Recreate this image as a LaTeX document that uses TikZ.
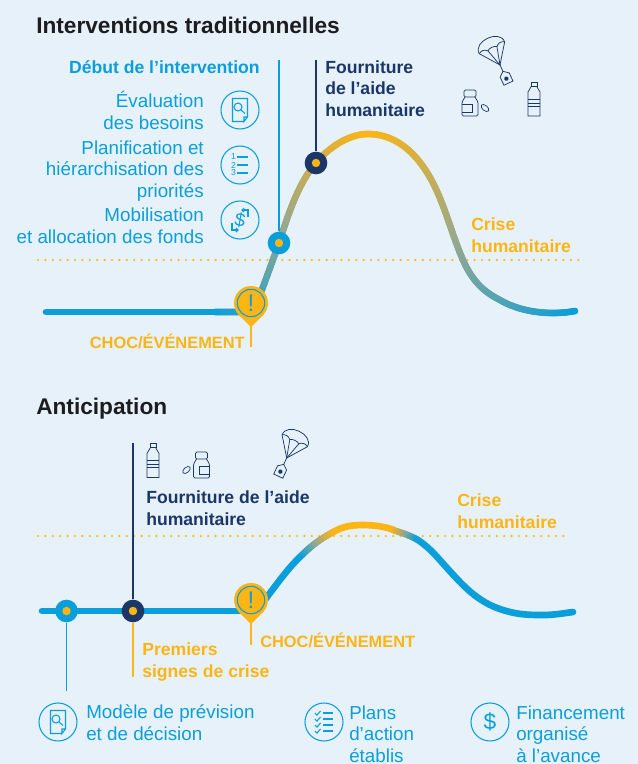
\documentclass[tikz,border=0pt]{standalone}
\usepackage{fontspec}
\setmainfont{Liberation Sans}
\usetikzlibrary{decorations.markings}
\definecolor{bgblue}{HTML}{E6F1FA}
\definecolor{skyline}{HTML}{0A9FDB}
\definecolor{navyline}{HTML}{1B3768}
\definecolor{amberline}{HTML}{FDB515}
\definecolor{midfade}{HTML}{98A88E}
\definecolor{titleink}{HTML}{1D1D1F}
\tikzset{
  txt/.style={inner sep=0pt,align=left,anchor=base west,font=\fontsize{14.1}{16}\selectfont},
  txtr/.style={txt,align=right,anchor=base east},
  skytxt/.style={text=skyline},
  navytxt/.style={text=navyline,font=\fontsize{13.2}{16}\selectfont\bfseries},
  ambertxt/.style={text=amberline,font=\fontsize{13.2}{16}\selectfont\bfseries},
  choctxt/.style={text=amberline,font=\fontsize{12.3}{16}\selectfont\bfseries},
  titletxt/.style={txt,text=titleink,font=\fontsize{17}{20}\selectfont\bfseries},
  flatline/.style={line width=5pt,draw=skyline},
  dotline/.style={draw=amberline,line width=1.8pt,line cap=round,dash pattern=on 0pt off 5.55pt},
  mrk/.style={circle,fill=#1,minimum size=17pt,inner sep=0pt},
  mrkdot/.style={fill=amberline},
  fadeline/.style 2 args={postaction={decorate,decoration={markings,
    mark=between positions 0 and 1 step 0.6pt with {
      \pgfmathsetmacro\mixval{min(100,100*(\pgfkeysvalueof{/pgf/decoration/mark info/distance from start}/\pgfdecoratedpathlength))}
      \ifdim\mixval pt<50pt
        \pgfmathsetmacro\mixhalf{2*\mixval}
        \fill[midfade!\mixhalf!#1] (0,0) circle (2.5pt);
      \else
        \pgfmathsetmacro\mixhalf{2*\mixval-100}
        \fill[#2!\mixhalf!midfade] (0,0) circle (2.5pt);
      \fi
    }}}},
  ring/.style={draw=skyline,line width=0.8pt},
  ico/.style={draw=skyline,line width=0.8pt},
  sup/.style={draw=navyline,line width=0.55pt},
  pics/pinmark/.style={code={
    \fill[amberline] (0,0) circle (17);
    \fill[amberline] (-13,11) -- (0,24) -- (13,11) -- cycle;
    \draw[ring] (0,0) circle (13.7);
    \node[inner sep=0pt,text=skyline,font=\fontsize{18}{18}\selectfont] at (0,0) {!};
  }},
  pics/docicon/.style={code={
    \draw[ring] (0,0) circle (19);
    \draw[ico] (4,11.5) -- (-7.5,11.5) -- (-7.5,-11.5) -- (7.5,-11.5) -- (7.5,7) -- (4,11.5) -- (4,7) -- (7.5,7);
    \draw[ico] (-2,-3) circle (4);
    \draw[ico] (1,0) -- (5,3.5);
  }},
  pics/listicon/.style={code={
    \draw[ring] (0,0) circle (19);
    \foreach \n/\yy in {1/-8,2/0,3/8}{
      \node[inner sep=0pt,text=skyline,font=\fontsize{6.5}{6.5}\selectfont] at (-6.5,\yy) {\n};
      \draw[ico] (-3,\yy) -- (8,\yy);
    }
  }},
  pics/moneyicon/.style={code={
    \draw[ring] (0,0) circle (19);
    \node[inner sep=0pt,text=skyline,rotate=-10,font=\fontsize{14}{14}\selectfont] at (0,0) {\$};
    \draw[ico] (2,-10) -- (8,-10) -- (8,-3);
    \draw[ico] (4,-12) -- (2,-10) -- (4,-8);
    \draw[ico] (-2,10) -- (-8,10) -- (-8,3);
    \draw[ico] (-4,12) -- (-2,10) -- (-4,8);
  }},
  pics/checkicon/.style={code={
    \draw[ring] (0,0) circle (19);
    \foreach \yy in {-9,-3,3,9}{
      \draw[ico] (-9,\yy) -- (-7,{\yy+2}) -- (-3.5,{\yy-2});
      \draw[ico] (-1,\yy) -- (9,\yy);
    }
  }},
  pics/cashicon/.style={code={
    \draw[ring] (0,0) circle (19);
    \node[inner sep=0pt,text=skyline,font=\fontsize{17}{17}\selectfont] at (0,0) {\$};
  }},
  pics/chute/.style={code={
    % canopy above, tag below, (0,0) where the cords meet
    \draw[sup] (0,0) -- (-14,-19) .. controls (-15,-33) and (15,-33) .. (14,-19) -- cycle;
    \draw[sup] (-14,-19) .. controls (-11,-21) and (-8,-21) .. (-5,-18) -- (0,0);
    \draw[sup] (14,-19) .. controls (11,-21) and (8,-21) .. (5,-18) -- (0,0);
    \draw[sup] (-5,-18) .. controls (-2,-20) and (2,-20) .. (5,-18);
    \draw[sup] (0,0) -- (0,7);
    \draw[sup] (0,7) -- (-5,11) -- (-5,20) -- (5,20) -- (5,11) -- cycle;
    \fill[navyline] (0,15) circle (2.2);
  }},
  pics/bottle/.style={code={
    \draw[sup] (-3,-17) -- (3,-17) -- (3,-13) -- (-3,-13) -- cycle;
    \draw[sup] (-2.5,-13) -- (-6,-7) -- (-6,17) -- (6,17) -- (6,-7) -- (2.5,-13);
    \draw[sup] (-6,0) -- (6,0) (-6,4) -- (6,4) (-6,7) -- (6,7);
  }},
  pics/pillbox/.style={code={
    \draw[sup,rounded corners=1pt] (-6,-17) rectangle (6,-10);
    \draw[sup,rounded corners=1pt] (-5,-10) -- (-8,-5) -- (-8,9) -- (8,9) -- (8,-5) -- (5,-10);
    \draw[sup] (-8,-3) -- (2,-3) -- (2,5) -- (-8,5);
    \draw[sup,rotate around={-40:(15,1)}] (15,1) ellipse (4.5 and 2.6);
  }},
}
\begin{document}
\begin{tikzpicture}[x=0.75pt,y=-0.75pt]
\useasboundingbox (0,0) rectangle (638,764);
\fill[bgblue] (0,0) rectangle (638,764);

% interventions traditionnelles
\node[titletxt] (titletop) at (36,33) {Interventions traditionnelles};
\node[txtr,skytxt,font=\fontsize{13.2}{16}\selectfont\bfseries] (debut) at (260,73) {Début de l’intervention};
\node[txtr,skytxt] (evalu) at (204,129) {Évaluation\\des besoins};
\node[txtr,skytxt] (plani) at (204,197) {Planification et\\hiérarchisation des\\priorités};
\node[txtr,skytxt] (mobil) at (204,243) {Mobilisation\\et allocation des fonds};
\node[txt,navytxt] (fournitop) at (325,116) {Fourniture\\de l’aide\\humanitaire};
\node[txt,ambertxt] (crisetop) at (471,252) {Crise\\humanitaire};
\node[txtr,choctxt] (choctop) at (245,348) {CHOC/ÉVÉNEMENT};

\pic at (240,110) {docicon};
\pic at (240,165) {listicon};
\pic at (240,220) {moneyicon};
\pic at (500,65) [rotate=25] {chute};
\pic at (534,99) {bottle};
\pic at (470,107) {pillbox};

\coordinate (dottopl) at (38,260);
\coordinate (dottopr) at (580,260);
\draw[dotline] (dottopl) -- (dottopr);

\draw[flatline,line cap=round] (46,312) -- (216,312);
\path[fadeline={skyline}{amberline}] (215,312) -- (238,312) .. controls (254,312) and (258,300) .. (263,287)
  .. controls (270,268) and (274,257) .. (279,243) .. controls (287,218) and (298,183) .. (316,163)
  .. controls (330,146) and (350,134) .. (368,134);
\path[fadeline={amberline}{skyline}] (368,134) .. controls (395,134) and (417,152) .. (433,183)
  .. controls (445,206) and (452,235) .. (463,260) .. controls (473,283) and (486,293) .. (500,300)
  .. controls (515,309) and (535,313) .. (553,313) .. controls (562,313) and (570,312) .. (575,311);

\coordinate (startup) at (279,60);
\coordinate (fournup) at (316,60);
\node[mrk=skyline] (mrkstart) at (279,243) {};
\node[mrk=navyline] (mrkfourn) at (316,163) {};
\fill[mrkdot] (mrkstart) circle (4.2);
\fill[mrkdot] (mrkfourn) circle (4.2);
\draw[skyline,line width=1.1pt] (startup) -- (mrkstart);
\draw[navyline,line width=1.1pt] (fournup) -- (mrkfourn);

\coordinate (pintop) at (251,303);
\coordinate (tickone) at (251,347);
\draw[amberline,line width=1.1pt] (pintop) -- (tickone);
\pic at (pintop) {pinmark};

% anticipation
\node[titletxt] (titlebot) at (36,414) {Anticipation};
\node[txt,navytxt] (fournibot) at (146,525) {Fourniture de l’aide\\humanitaire};
\node[txt,ambertxt] (crisebot) at (457,528) {Crise\\humanitaire};
\node[txt,ambertxt] (signes) at (142,677) {Premiers\\signes de crise};
\node[txt,choctxt] (chocbot) at (260,647) {CHOC/ÉVÉNEMENT};

\pic at (153,460.5) {bottle};
\pic [xscale=-1] at (201.5,469) {pillbox};
\pic at (286.7,458) [rotate=-25] {chute};

\coordinate (dotbotl) at (38,536);
\coordinate (dotbotr) at (565,536);
\draw[dotline] (dotbotl) -- (dotbotr);

\draw[flatline,line cap=round] (42,611) -- (250,611);
\draw[flatline] (255,611) .. controls (260,608) and (263,602) .. (267,597) .. controls (279,581) and (290,566) .. (302,555);
\draw[flatline,line cap=round] (418,540) .. controls (430,548) and (438,558) .. (447,568)
  .. controls (457,579) and (466,589) .. (477,597) .. controls (488,605) and (498,609) .. (510,612)
  .. controls (522,615) and (533,615) .. (543,615) .. controls (555,615) and (565,613) .. (573,612);
\path[fadeline={skyline}{amberline}] (302,555) .. controls (311,546) and (320,539) .. (335,531);
\draw[amberline,line width=5pt] (334,531.5) .. controls (344,526) and (353,525) .. (363,525) .. controls (375,525) and (386,527) .. (394,530);
\path[fadeline={amberline}{skyline}] (393,530) .. controls (403,533) and (411,536) .. (418,540);

\coordinate (navyup) at (133,443);
\coordinate (skydown) at (66.5,691);
\coordinate (amberdown) at (133,677);
\node[mrk=skyline] (mrkmodel) at (66.5,611) {};
\node[mrk=navyline] (mrksignes) at (133,611) {};
\fill[mrkdot] (mrkmodel) circle (4.2);
\fill[mrkdot] (mrksignes) circle (4.2);
\draw[skyline,line width=1.1pt] (mrkmodel) -- (skydown);
\draw[navyline,line width=1.1pt] (navyup) -- (mrksignes);
\draw[amberline,line width=1.1pt] (mrksignes) -- (amberdown);

\coordinate (pinbot) at (251,600);
\coordinate (ticktwo) at (251,645);
\draw[amberline,line width=1.1pt] (pinbot) -- (ticktwo);
\pic at (pinbot) {pinmark};

\pic at (58,722) {docicon};
\pic at (324,722) {checkicon};
\pic at (490,722) {cashicon};
\node[txt,skytxt] (modele) at (86,740) {Modèle de prévision\\et de décision};
\node[txt,skytxt] (plans) at (349,762) {Plans\\d’action\\établis};
\node[txt,skytxt] (finan) at (516,762) {Financement\\organisé\\à l’avance};
\end{tikzpicture}
\end{document}
